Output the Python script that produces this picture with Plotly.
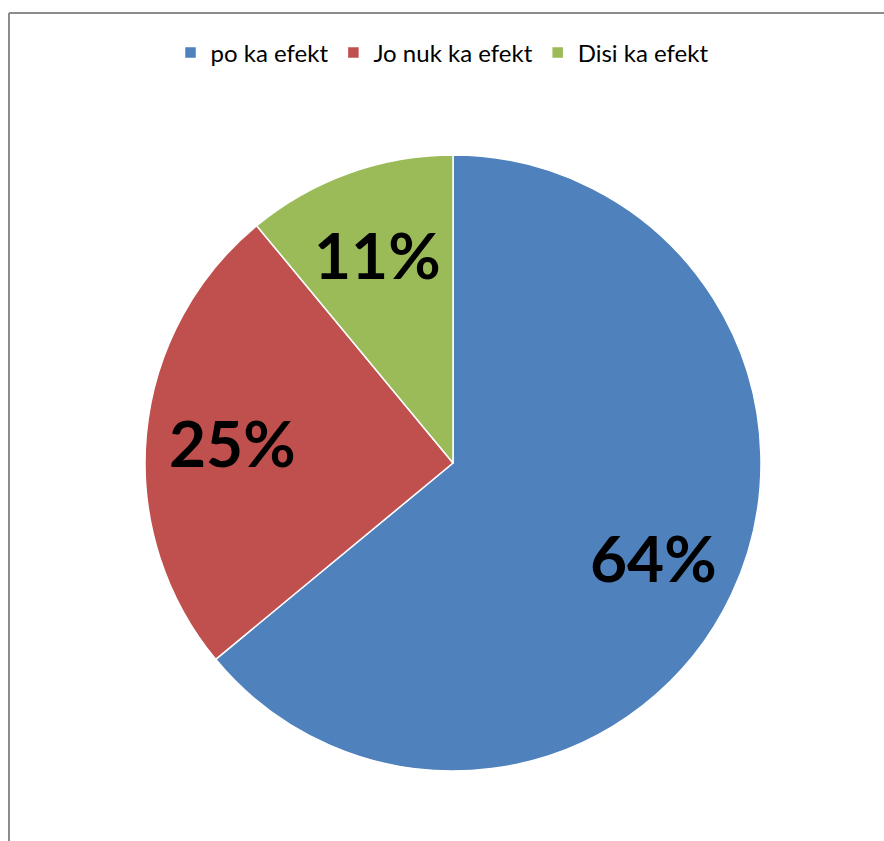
import math
import plotly.graph_objects as go

labels = ["po ka efekt", "Jo nuk ka efekt", "Disi ka efekt"]
values = [64, 25, 11]
colors = ["#4F81BD", "#C0504D", "#9BBB59"]

W, H = 884, 841
cx, cy, R = 453, 463, 308  # pixel center (from top) and radius

fig = go.Figure(go.Pie(
    labels=labels, values=values, sort=False, direction="clockwise", rotation=0,
    marker=dict(colors=colors, line=dict(color="white", width=1.5)),
    textinfo="none", hoverinfo="label+percent",
    domain=dict(x=[(cx - R) / W, (cx + R) / W], y=[(H - cy - R) / H, (H - cy + R) / H]),
))

# percentage labels placed along each slice bisector
total = sum(values)
cum = 0
annotations = []
for v in values:
    mid = (cum + v / 2) / total * 2 * math.pi
    cum += v
    px = cx + 0.72 * R * math.sin(mid)
    py = (H - cy) + 0.72 * R * math.cos(mid)
    annotations.append(dict(
        x=px / W, y=py / H, xref="paper", yref="paper", showarrow=False,
        text=f"{round(v / total * 100)}%",
        font=dict(family="Lato", size=64, color="black", weight="bold"),
        xanchor="center", yanchor="middle",
    ))

fig.update_layout(
    width=W, height=H, margin=dict(l=0, r=0, t=0, b=0),
    paper_bgcolor="white", plot_bgcolor="white",
    showlegend=True,
    legend=dict(orientation="h", x=0.5, xanchor="center", y=(H - 53) / H, yanchor="middle",
                font=dict(family="Lato", size=24, color="#000000"), traceorder="normal"),
    annotations=annotations,
    shapes=[
        dict(type="line", xref="paper", yref="paper", x0=9 / W, y0=(H - 13) / H, x1=1.01, y1=(H - 13) / H,
             line=dict(color="#8C8C8C", width=2)),
        dict(type="line", xref="paper", yref="paper", x0=9 / W, y0=(H - 13) / H, x1=9 / W, y1=-0.01,
             line=dict(color="#8C8C8C", width=2)),
    ],
)

fig.write_html("out.html")
